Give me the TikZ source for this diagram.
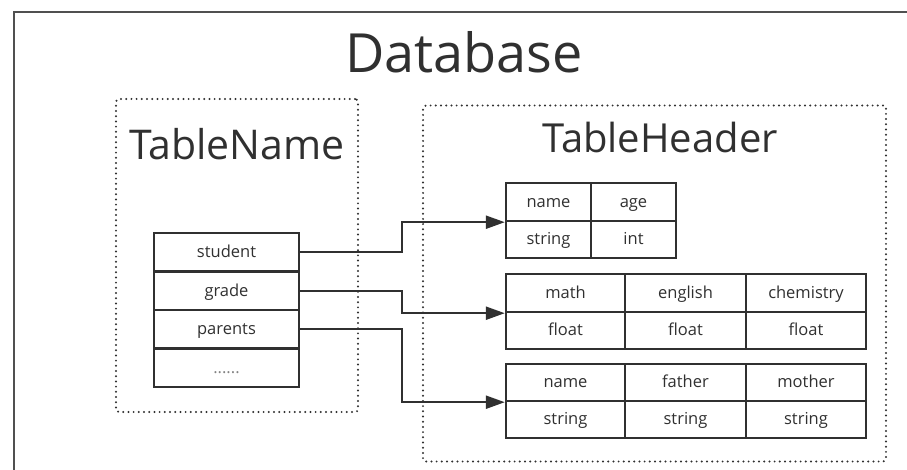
\documentclass[tikz,border=0pt]{standalone}
\usepackage{fontspec}
\setmainfont{Open Sans}
\usetikzlibrary{arrows.meta,calc}
\definecolor{ink}{HTML}{303030}
\definecolor{framegray}{HTML}{505050}
\tikzset{
  cell/.style={draw=ink, line width=2.4pt, inner sep=0pt, text=ink,
    text height=13pt, text depth=2.5pt,
    font=\fontsize{16.5}{18}\selectfont},
  dotbox/.style={draw=ink, line width=2.2pt, line cap=round,
    dash pattern=on 0pt off 5.2pt, rounded corners=3pt},
  title/.style={text=ink, inner sep=0pt, anchor=base},
  link/.style={draw=ink, line width=2.3pt,
    -{Triangle[length=19pt,width=13pt]}},
}
\begin{document}
\begin{tikzpicture}[x=1pt,y=-1pt]
\useasboundingbox (0,0) rectangle (907,470);

% outer frame
\draw[framegray, line width=2.2pt] (907,12) -- (14,12) -- (14,470);

\node[title, font=\fontsize{54}{60}\selectfont] (db) at (464,73) {Database};

% dotted groups
\node[dotbox, minimum width=242pt, minimum height=313pt, inner sep=0pt] (grpname) at (237,255.5) {};
\node[dotbox, minimum width=463pt, minimum height=356pt, inner sep=0pt] (grphead) at (654.5,283.5) {};

\node[title, font=\fontsize{41}{46}\selectfont] (tn) at (237,160) {TableName};
\node[title, font=\fontsize{40}{46}\selectfont] (th) at (660,153) {TableHeader};

% table of names
\node[cell, minimum width=145pt, minimum height=38.5pt] (student) at (226.5,252.3) {student};
\node[cell, minimum width=145pt, minimum height=38.5pt] (grade)   at (226.5,290.8) {grade};
\node[cell, minimum width=145pt, minimum height=38.5pt] (parents) at (226.5,329.3) {parents};
\node[cell, minimum width=145pt, minimum height=38.5pt, text=ink!60] (more) at (226.5,367.8) {......};

% header of student
\node[cell, minimum width=85pt, minimum height=38pt] (sa) at (548.5,202) {name};
\node[cell, minimum width=85pt, minimum height=38pt] (sb) at (633.5,202) {age};
\node[cell, minimum width=85pt, minimum height=37pt] (sc) at (548.5,239.5) {string};
\node[cell, minimum width=85pt, minimum height=37pt] (sd) at (633.5,239.5) {int};

% header of grade
\node[cell, minimum width=119pt, minimum height=38pt] (ga) at (565.5,293) {math};
\node[cell, minimum width=121pt, minimum height=38pt] (gb) at (685.5,293) {english};
\node[cell, minimum width=120pt, minimum height=38pt] (gc) at (806,293) {chemistry};
\node[cell, minimum width=119pt, minimum height=37pt] (gd) at (565.5,330.5) {float};
\node[cell, minimum width=121pt, minimum height=37pt] (ge) at (685.5,330.5) {float};
\node[cell, minimum width=120pt, minimum height=37pt] (gf) at (806,330.5) {float};

% header of parents
\node[cell, minimum width=119pt, minimum height=37pt] (pa) at (565.5,382.5) {name};
\node[cell, minimum width=121pt, minimum height=37pt] (pb) at (685.5,382.5) {father};
\node[cell, minimum width=120pt, minimum height=37pt] (pc) at (806,382.5) {mother};
\node[cell, minimum width=119pt, minimum height=37pt] (pd) at (565.5,419.5) {string};
\node[cell, minimum width=121pt, minimum height=37pt] (pe) at (685.5,419.5) {string};
\node[cell, minimum width=120pt, minimum height=37pt] (pf) at (806,419.5) {string};

% links from names to headers
\coordinate (bend) at (402,0);
\draw[link] (student.east) -- (student.east -| bend) |- (sa.south west);
\draw[link] (grade.east) -- (grade.east -| bend) |- (ga.south west);
\draw[link] (parents.east) -- (parents.east -| bend) |- (pa.south west);
\end{tikzpicture}
\end{document}
